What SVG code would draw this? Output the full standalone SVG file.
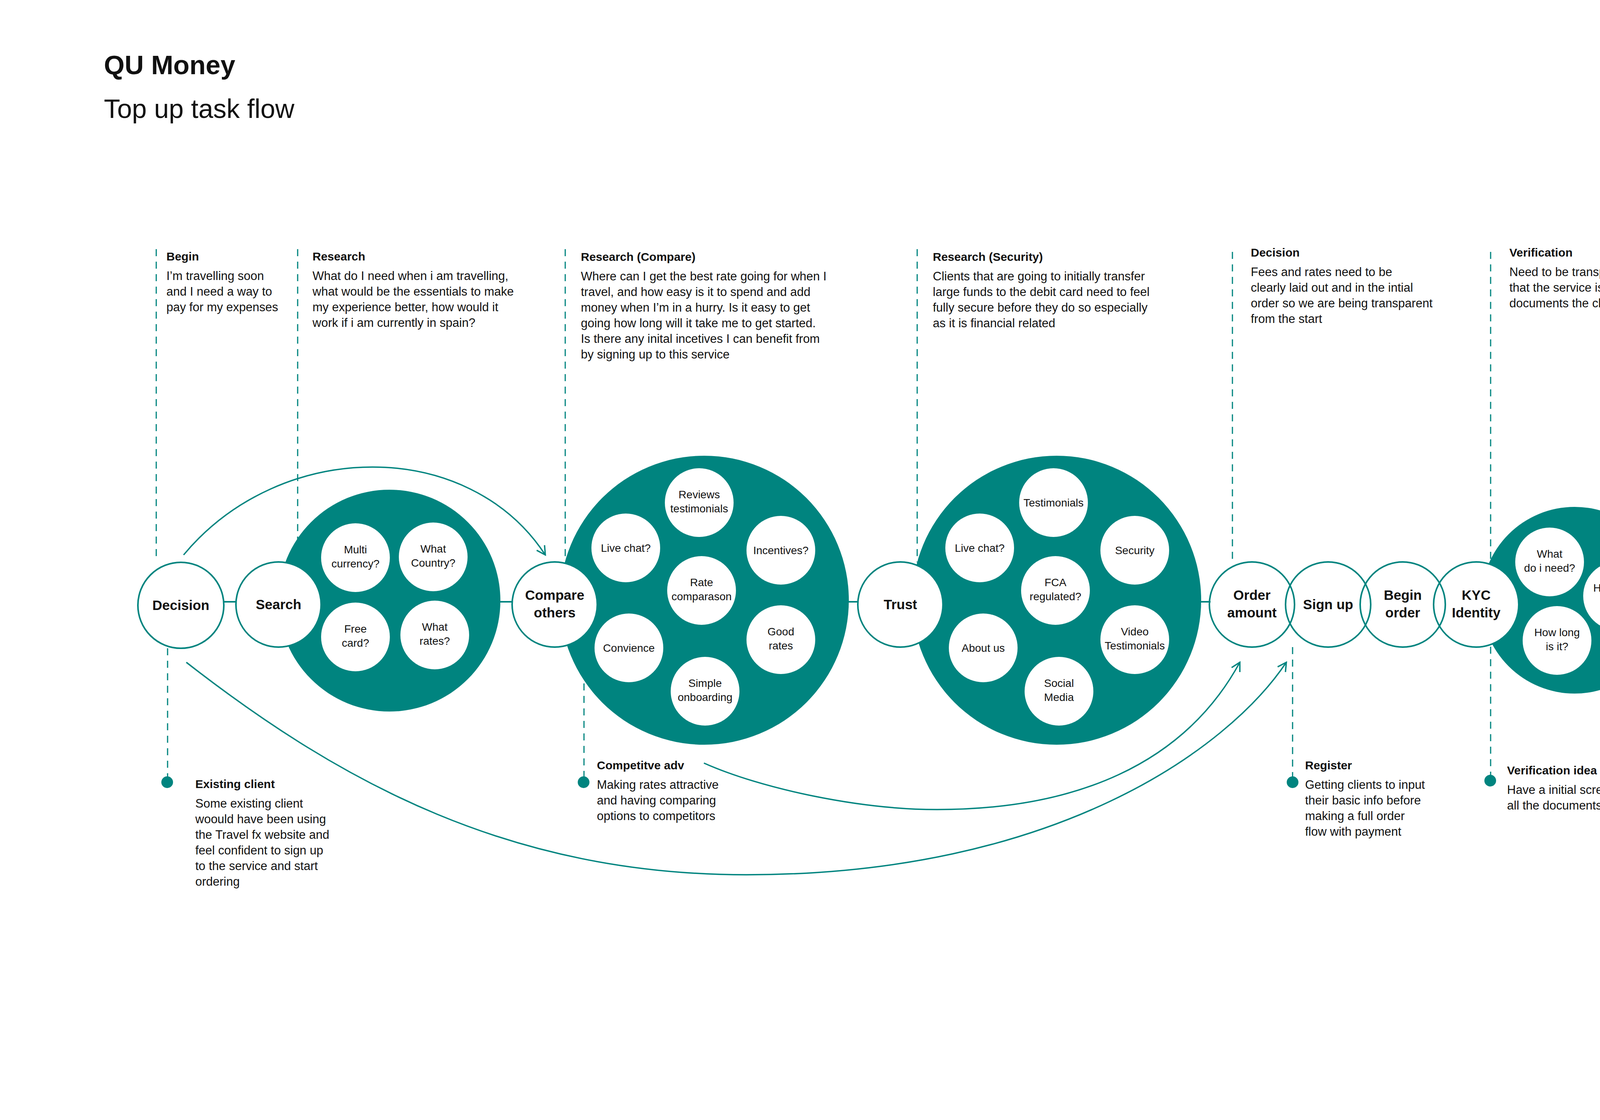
<svg xmlns="http://www.w3.org/2000/svg" width="5798" height="2868" viewBox="0 0 5798 2868">
<style>
text{font-family:"Liberation Sans",Arial,sans-serif;fill:#111}
.h1{font-size:68px;font-weight:bold}
.h2{font-size:68px}
.t{font-size:30px;font-weight:bold}
.b{font-size:31px}
.node{fill:#fff;stroke:#00847f;stroke-width:4}
.open{fill:none;stroke:#00847f;stroke-width:4}
.big{fill:#00847f}
.inner{fill:#fff}
.nl{font-size:35px;font-weight:bold;text-anchor:middle}
.il{font-size:28px;text-anchor:middle}
.dash{stroke:#00847f;stroke-width:3;stroke-dasharray:18 14;fill:none}
.dot{fill:#00847f}
.link{stroke:#00847f;stroke-width:4;fill:none}
.arc{stroke:#00847f;stroke-width:3.5;fill:none}
</style>
<defs>
<marker id="arr" viewBox="0 0 30 30" refX="27" refY="15" markerWidth="30" markerHeight="30" orient="auto" markerUnits="userSpaceOnUse">
<path d="M5,3 L27,15 L5,27" fill="none" stroke="#00847f" stroke-width="3.5"/>
</marker>
</defs>
<rect width="5798" height="2868" fill="#fff"/>

<g id="title">
<text class="h1" x="266" y="190">QU Money</text>
<text class="h2" x="266" y="302">Top up task flow</text>
</g>

<g id="annotations-top">
<line class="dash" x1="400" y1="638" x2="400" y2="1434"/>
<text class="t" x="426" y="667">Begin</text>
<text class="b" x="426" y="717">I’m travelling soon</text>
<text class="b" x="426" y="757">and I need a way to</text>
<text class="b" x="426" y="797">pay for my expenses</text>

<line class="dash" x1="762" y1="638" x2="762" y2="1380"/>
<text class="t" x="800" y="667">Research</text>
<text class="b" x="800" y="717">What do I need when i am travelling,</text>
<text class="b" x="800" y="757">what would be the essentials to make</text>
<text class="b" x="800" y="797">my experience better, how would it</text>
<text class="b" x="800" y="837">work if i am currently in spain?</text>

<line class="dash" x1="1447" y1="638" x2="1447" y2="1434"/>
<text class="t" x="1487" y="668">Research (Compare)</text>
<text class="b" x="1487" y="718">Where can I get the best rate going for when I</text>
<text class="b" x="1487" y="758">travel, and how easy is it to spend and add</text>
<text class="b" x="1487" y="798">money when I’m in a hurry. Is it easy to get</text>
<text class="b" x="1487" y="838">going how long will it take me to get started.</text>
<text class="b" x="1487" y="878">Is there any inital incetives I can benefit from</text>
<text class="b" x="1487" y="918">by signing up to this service</text>

<line class="dash" x1="2348" y1="638" x2="2348" y2="1440"/>
<text class="t" x="2388" y="668">Research (Security)</text>
<text class="b" x="2388" y="718">Clients that are going to initially transfer</text>
<text class="b" x="2388" y="758">large funds to the debit card need to feel</text>
<text class="b" x="2388" y="798">fully secure before they do so especially</text>
<text class="b" x="2388" y="838">as it is financial related</text>

<line class="dash" x1="3155" y1="645" x2="3155" y2="1444"/>
<text class="t" x="3202" y="657">Decision</text>
<text class="b" x="3202" y="707">Fees and rates need to be</text>
<text class="b" x="3202" y="747">clearly laid out and in the intial</text>
<text class="b" x="3202" y="787">order so we are being transparent</text>
<text class="b" x="3202" y="827">from the start</text>

<line class="dash" x1="3816" y1="645" x2="3816" y2="1440"/>
<text class="t" x="3864" y="657">Verification</text>
<text class="b" x="3864" y="707">Need to be transparent with the client</text>
<text class="b" x="3864" y="747">that the service is simple and lists all the</text>
<text class="b" x="3864" y="787">documents the client will need</text>
</g>

<g id="annotations-bottom">
<line class="dash" x1="429" y1="1660" x2="429" y2="1995"/>
<circle class="dot" cx="428" cy="2003" r="15"/>
<text class="t" x="500" y="2018">Existing client</text>
<text class="b" x="500" y="2068">Some existing client</text>
<text class="b" x="500" y="2108">woould have been using</text>
<text class="b" x="500" y="2148">the Travel fx website and</text>
<text class="b" x="500" y="2188">feel confident to sign up</text>
<text class="b" x="500" y="2228">to the service and start</text>
<text class="b" x="500" y="2268">ordering</text>

<line class="dash" x1="1495" y1="1750" x2="1495" y2="1995"/>
<circle class="dot" cx="1494" cy="2003" r="15"/>
<text class="t" x="1528" y="1970">Competitve adv</text>
<text class="b" x="1528" y="2020">Making rates attractive</text>
<text class="b" x="1528" y="2060">and having comparing</text>
<text class="b" x="1528" y="2100">options to competitors</text>

<line class="dash" x1="3309" y1="1657" x2="3309" y2="1995"/>
<circle class="dot" cx="3309" cy="2003" r="15"/>
<text class="t" x="3341" y="1970">Register</text>
<text class="b" x="3341" y="2020">Getting clients to input</text>
<text class="b" x="3341" y="2060">their basic info before</text>
<text class="b" x="3341" y="2100">making a full order</text>
<text class="b" x="3341" y="2140">flow with payment</text>

<line class="dash" x1="3816" y1="1656" x2="3816" y2="1990"/>
<circle class="dot" cx="3815" cy="1999" r="15"/>
<text class="t" x="3858" y="1983">Verification idea</text>
<text class="b" x="3858" y="2033">Have a initial screen which enlists</text>
<text class="b" x="3858" y="2073">all the documents the client will need</text>

<line class="dash" x1="4617" y1="1659" x2="4617" y2="1995"/>
<circle class="dot" cx="4617" cy="2003" r="15"/>
<text class="t" x="4649" y="1970">Order processed</text>
<text class="b" x="4649" y="2020">Keeping clients informed they have</text>
<text class="b" x="4649" y="2060">completed the order and can now use</text>
<text class="b" x="4649" y="2100">the top up balance</text>
</g>

<g id="connectors">
<line class="link" x1="573" y1="1541" x2="605" y2="1541"/>
<line class="link" x1="1278" y1="1541" x2="1312" y2="1541"/>
<line class="link" x1="2170" y1="1541" x2="2197" y2="1541"/>
<line class="link" x1="3072" y1="1541" x2="3099" y2="1541"/>
<line class="link" x1="4215" y1="1550" x2="4294" y2="1550"/>
<line class="link" x1="5170" y1="1534" x2="5199" y2="1534"/>
<path class="arc" d="M470,1421 C720,1121 1200,1121 1396,1421" marker-end="url(#arr)"/>
<path class="arc" d="M477,1696 C877,2008 1311,2240 1911,2240 C2700,2240 3143,1920 3293,1696" marker-end="url(#arr)"/>
<path class="arc" d="M1802,1954 C1950,2020 2200,2073 2399,2073 C2750,2073 3030,1960 3174,1696" marker-end="url(#arr)"/>
</g>

<g id="node-decision">
<circle class="node" cx="463" cy="1550" r="110"/>
<text class="nl" x="463" y="1562">Decision</text>
</g>

<g id="cluster-search">
<circle class="big" cx="997" cy="1538" r="284"/>
<ellipse class="inner" cx="910" cy="1428" rx="88" ry="88"/>
<text class="il" x="910" y="1417">Multi</text>
<text class="il" x="910" y="1453">currency?</text>
<ellipse class="inner" cx="1109" cy="1426" rx="88" ry="88"/>
<text class="il" x="1109" y="1415">What</text>
<text class="il" x="1109" y="1451">Country?</text>
<ellipse class="inner" cx="910" cy="1631" rx="88" ry="88"/>
<text class="il" x="910" y="1620">Free</text>
<text class="il" x="910" y="1656">card?</text>
<ellipse class="inner" cx="1113" cy="1626" rx="88" ry="88"/>
<text class="il" x="1113" y="1615">What</text>
<text class="il" x="1113" y="1651">rates?</text>
</g>
<g id="node-search">
<circle class="node" cx="713" cy="1548" r="109"/>
<text class="nl" x="713" y="1560">Search</text>
</g>

<g id="cluster-compare">
<circle class="big" cx="1803" cy="1537" r="370"/>
<circle class="inner" cx="1790" cy="1287" r="88"/>
<text class="il" x="1790" y="1276">Reviews</text>
<text class="il" x="1790" y="1312">testimonials</text>
<circle class="inner" cx="1602" cy="1403" r="88"/>
<text class="il" x="1602" y="1413">Live chat?</text>
<circle class="inner" cx="1999" cy="1409" r="88"/>
<text class="il" x="1999" y="1419">Incentives?</text>
<circle class="inner" cx="1796" cy="1512" r="88"/>
<text class="il" x="1796" y="1501">Rate</text>
<text class="il" x="1796" y="1537">comparason</text>
<circle class="inner" cx="1610" cy="1659" r="88"/>
<text class="il" x="1610" y="1669">Convience</text>
<circle class="inner" cx="1999" cy="1638" r="88"/>
<text class="il" x="1999" y="1627">Good</text>
<text class="il" x="1999" y="1663">rates</text>
<circle class="inner" cx="1805" cy="1770" r="88"/>
<text class="il" x="1805" y="1759">Simple</text>
<text class="il" x="1805" y="1795">onboarding</text>
</g>
<g id="node-compare">
<circle class="node" cx="1420" cy="1548" r="109"/>
<text class="nl" x="1420" y="1536">Compare</text>
<text class="nl" x="1420" y="1581">others</text>
</g>

<g id="cluster-trust">
<circle class="big" cx="2705" cy="1537" r="370"/>
<circle class="inner" cx="2697" cy="1287" r="88"/>
<text class="il" x="2697" y="1297">Testimonials</text>
<circle class="inner" cx="2508" cy="1403" r="88"/>
<text class="il" x="2508" y="1413">Live chat?</text>
<circle class="inner" cx="2905" cy="1409" r="88"/>
<text class="il" x="2905" y="1419">Security</text>
<circle class="inner" cx="2702" cy="1512" r="88"/>
<text class="il" x="2702" y="1501">FCA</text>
<text class="il" x="2702" y="1537">regulated?</text>
<circle class="inner" cx="2517" cy="1659" r="88"/>
<text class="il" x="2517" y="1669">About us</text>
<circle class="inner" cx="2905" cy="1638" r="88"/>
<text class="il" x="2905" y="1627">Video</text>
<text class="il" x="2905" y="1663">Testimonials</text>
<circle class="inner" cx="2711" cy="1770" r="88"/>
<text class="il" x="2711" y="1759">Social</text>
<text class="il" x="2711" y="1795">Media</text>
</g>
<g id="node-trust">
<circle class="node" cx="2305" cy="1548" r="109"/>
<text class="nl" x="2305" y="1560">Trust</text>
</g>

<g id="cluster-kyc">
<circle class="big" cx="4031" cy="1537" r="239"/>
<circle class="inner" cx="3967" cy="1439" r="88"/>
<text class="il" x="3967" y="1428">What</text>
<text class="il" x="3967" y="1464">do i need?</text>
<circle class="inner" cx="4141" cy="1526" r="88"/>
<text class="il" x="4141" y="1515">How does</text>
<text class="il" x="4141" y="1551">it work</text>
<circle class="inner" cx="3986" cy="1640" r="88"/>
<text class="il" x="3986" y="1629">How long</text>
<text class="il" x="3986" y="1665">is it?</text>
</g>
<g id="node-kyc">
<circle class="node" cx="3779" cy="1548" r="109"/>
<text class="nl" x="3779" y="1536">KYC</text>
<text class="nl" x="3779" y="1581">Identity</text>
</g>
<g id="node-begin-order">
<circle class="open" cx="3591" cy="1548" r="109"/>
<text class="nl" x="3591" y="1536">Begin</text>
<text class="nl" x="3591" y="1581">order</text>
</g>
<g id="node-sign-up">
<circle class="open" cx="3400" cy="1548" r="109"/>
<text class="nl" x="3400" y="1560">Sign up</text>
</g>
<g id="node-order-amount">
<circle class="open" cx="3205" cy="1548" r="109"/>
<text class="nl" x="3205" y="1536">Order</text>
<text class="nl" x="3205" y="1581">amount</text>
</g>

<g id="cluster-confirmed">
<circle class="big" cx="4890" cy="1533" r="284"/>
<circle class="inner" cx="4802" cy="1423" r="88"/>
<text class="il" x="4802" y="1412">Email</text>
<text class="il" x="4802" y="1448">confimation</text>
<circle class="inner" cx="5000" cy="1420" r="88"/>
<text class="il" x="5000" y="1409">Phone</text>
<text class="il" x="5000" y="1445">confirmation</text>
<circle class="inner" cx="4802" cy="1624" r="88"/>
<text class="il" x="4802" y="1613">Payment</text>
<text class="il" x="4802" y="1649">receipt</text>
<circle class="inner" cx="5006" cy="1620" r="88"/>
<text class="il" x="5006" y="1609">Activity</text>
<text class="il" x="5006" y="1645">page</text>
</g>
<g id="node-confirmed">
<circle class="node" cx="4610" cy="1548" r="109"/>
<text class="nl" x="4610" y="1560">Confirmed</text>
</g>
<g id="node-payment">
<circle class="open" cx="4402" cy="1548" r="109"/>
<text class="nl" x="4402" y="1560">Payment?</text>
</g>
<g id="node-order-complete">
<circle class="node" cx="5307" cy="1548" r="109"/>
<text class="nl" x="5307" y="1536">Order</text>
<text class="nl" x="5307" y="1581">complete</text>
</g>
</svg>
